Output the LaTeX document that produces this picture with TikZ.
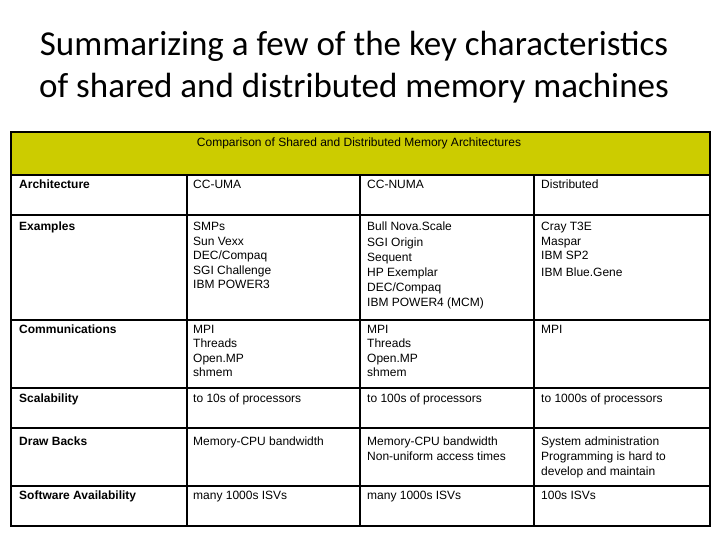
\documentclass[tikz,border=0pt]{standalone}
\usepackage{fontspec}
\setmainfont{Liberation Sans}
\newfontfamily\titlefont{Carlito}
\definecolor{hdr}{HTML}{CCCC00}
\begin{document}
\begin{tikzpicture}[x=1pt,y=-1pt,
  cell/.style={anchor=north west,inner sep=0pt,align=left,font=\fontsize{12}{14.5}\selectfont},
  bcell/.style={cell,font=\fontsize{12}{14.5}\selectfont\bfseries},
  grid/.style={line width=1.3pt}]
\useasboundingbox (0,0) rectangle (720,540);
\node[font=\titlefont\fontsize{35}{42}\selectfont,align=center] (title) at (354,67) {Summarizing a few of the key characteristics\\of shared and distributed memory machines};
\fill[hdr] (11,132) rectangle (710,175);
\node[font=\fontsize{12}{14}\selectfont] (hd) at (359,143) {Comparison of Shared and Distributed Memory Architectures};
\foreach \y in {175,215,320,388,428,486} \draw[grid] (11,\y) -- (710,\y);
\foreach \x in {187,360,534} \draw[grid] (\x,175) -- (\x,526);
\draw[line width=2pt] (11,132) rectangle (710,526);
% column 1
\node[bcell] (a1) at (19,180) {Architecture};
\node[bcell] (a2) at (19,222) {Examples};
\node[bcell] (a3) at (19,325) {Communications};
\node[bcell] (a4) at (19,394) {Scalability};
\node[bcell] (a5) at (19,437) {Draw Backs};
\node[bcell] (a6) at (19,491) {Software Availability};
% column 2
\node[cell] (b1) at (193,180) {CC-UMA};
\node[cell] (b2) at (193,222) {SMPs\\Sun Vexx\\DEC/Compaq\\SGI Challenge\\IBM POWER3};
\node[cell] (b3) at (193,325) {MPI\\Threads\\Open.MP\\shmem};
\node[cell] (b4) at (193,394) {to 10s of processors};
\node[cell] (b5) at (193,437) {Memory-CPU bandwidth};
\node[cell] (b6) at (193,491) {many 1000s ISVs};
% column 3
\node[cell] (c1) at (367,180) {CC-NUMA};
\node[cell,font=\fontsize{12}{15.2}\selectfont] (c2) at (367,222) {Bull Nova.Scale\\SGI Origin\\Sequent\\HP Exemplar\\DEC/Compaq\\IBM POWER4 (MCM)};
\node[cell] (c3) at (367,325) {MPI\\Threads\\Open.MP\\shmem};
\node[cell] (c4) at (367,394) {to 100s of processors};
\node[cell] (c5) at (367,437) {Memory-CPU bandwidth\\Non-uniform access times};
\node[cell] (c6) at (367,491) {many 1000s ISVs};
% column 4
\node[cell] (d1) at (541,180) {Distributed};
\node[cell] (d2) at (541,222) {Cray T3E\\Maspar\\IBM SP2\\[2pt]IBM Blue.Gene};
\node[cell] (d3) at (541,325) {MPI};
\node[cell] (d4) at (541,394) {to 1000s of processors};
\node[cell,font=\fontsize{12}{15}\selectfont] (d5) at (541,437) {System administration\\Programming is hard to\\develop and maintain};
\node[cell] (d6) at (541,491) {100s ISVs};
\end{tikzpicture}
\end{document}
